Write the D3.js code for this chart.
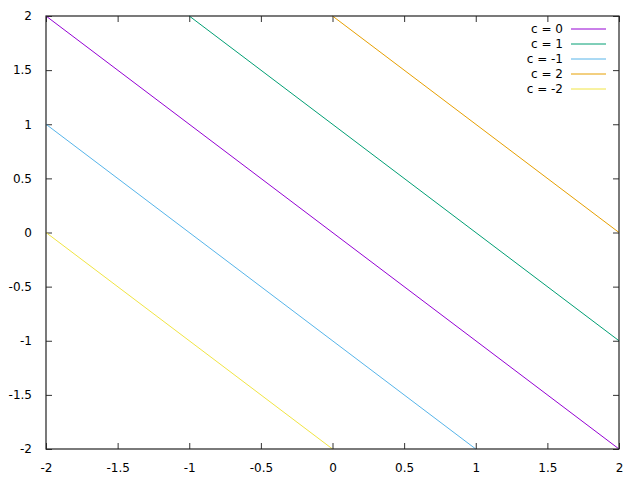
<!DOCTYPE html>
<html>
<head>
<meta charset="utf-8">
<script src="https://cdn.jsdelivr.net/npm/d3@7"></script>
<style>
  body { margin: 0; background: #fff; }
  text { font-family: "DejaVu Sans", sans-serif; font-size: 12px; fill: #000; }
</style>
</head>
<body>
<div class="chart"></div>
<script>
// Series: lines y = -x + c, endpoints (clipped to the box)
var labels = ["c = 0", "c = 1", "c = -1", "c = 2", "c = -2"];
var colors = ["#9400d3", "#009e73", "#56b4e9", "#e69f00", "#f0e442"];
var seriesX = [[-2, 2], [-1, 2], [-2, 1], [0, 2], [-2, 0]];
var seriesY = [[2, -2], [2, -1], [1, -2], [2, 0], [0, -2]];
var xTicks = [-2, -1.5, -1, -0.5, 0, 0.5, 1, 1.5, 2];
var yTicks = [-2, -1.5, -1, -0.5, 0, 0.5, 1, 1.5, 2];

var svgWidth = 640;
var svgHeight = 480;
var margin = { top: 16, right: 21, bottom: 31, left: 46 };
var width = svgWidth - margin.left - margin.right;
var height = svgHeight - margin.top - margin.bottom;

var svg = d3.select(".chart")
  .append("svg")
  .attr("width", svgWidth)
  .attr("height", svgHeight)
  .append("g")
  .attr("transform", "translate(" + margin.left + "," + margin.top + ")");

var x = d3.scaleLinear().domain([-2, 2]).range([0, width]);
var y = d3.scaleLinear().domain([-2, 2]).range([height, 0]);

function fmt(d) { return String(d); }

// Axes with inward ticks, mirrored on top/right
function styleAxis(g) {
  g.select(".domain").remove();
  g.selectAll(".tick line").attr("stroke", "#333").attr("stroke-width", 1);
  g.selectAll(".tick text").style("font-size", "12px")
    .style("font-family", '"DejaVu Sans", sans-serif');
}

svg.append("g")
  .attr("transform", "translate(0," + height + ")")
  .call(d3.axisBottom(x).tickValues(xTicks).tickFormat(fmt).tickSizeInner(-6).tickSizeOuter(0).tickPadding(14))
  .call(styleAxis);

svg.append("g")
  .call(d3.axisLeft(y).tickValues(yTicks).tickFormat(fmt).tickSizeInner(-6).tickSizeOuter(0).tickPadding(14))
  .call(styleAxis);

svg.append("g")
  .call(d3.axisTop(x).tickValues(xTicks).tickFormat("").tickSizeInner(-6).tickSizeOuter(0))
  .call(styleAxis);

svg.append("g")
  .attr("transform", "translate(" + width + ",0)")
  .call(d3.axisRight(y).tickValues(yTicks).tickFormat("").tickSizeInner(-6).tickSizeOuter(0))
  .call(styleAxis);

// Lines
var line = d3.line()
  .x(function(d) { return x(d[0]); })
  .y(function(d) { return y(d[1]); });

labels.forEach(function(lab, i) {
  var pts = seriesX[i].map(function(v, j) { return [v, seriesY[i][j]]; });
  svg.append("path")
    .datum(pts)
    .attr("fill", "none")
    .attr("stroke", colors[i])
    .attr("stroke-width", 1)
    .attr("d", line);
});

// Frame
svg.append("rect")
  .attr("x", 0).attr("y", 0)
  .attr("width", width).attr("height", height)
  .attr("fill", "none")
  .attr("stroke", "#222")
  .attr("stroke-width", 1.2);

// Legend
var legend = svg.append("g")
  .attr("transform", "translate(" + (563 - margin.left) + "," + (29 - margin.top) + ")");

labels.forEach(function(lab, i) {
  legend.append("text")
    .attr("x", 0)
    .attr("y", i * 15)
    .attr("dy", "0.35em")
    .attr("text-anchor", "end")
    .text(lab);
  legend.append("line")
    .attr("x1", 8).attr("x2", 43)
    .attr("y1", i * 15).attr("y2", i * 15)
    .attr("stroke", colors[i])
    .attr("stroke-width", 1);
});
</script>
</body>
</html>
